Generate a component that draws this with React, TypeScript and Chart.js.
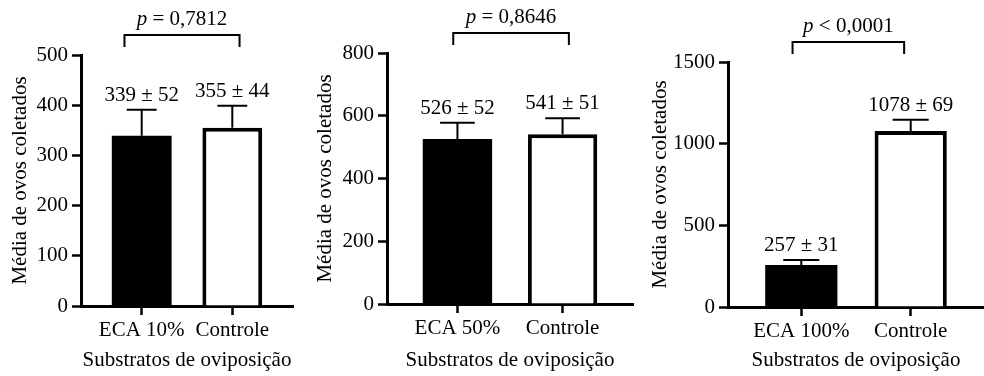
import React, { useEffect, useRef } from 'react';
import { Chart, registerables } from 'chart.js';

Chart.register(...registerables);

const FONT = '"Liberation Serif", "Times New Roman", serif';
const FONT_SIZE = 21;
const H = 376;

// ---- Data ----
const categories1 = ['ECA 10%', 'Controle'];
const means1 = [339, 355];
const sds1 = [52, 44];
const yTicks1 = [0, 100, 200, 300, 400, 500];
const pText1 = 'p = 0,7812';

const categories2 = ['ECA 50%', 'Controle'];
const means2 = [526, 541];
const sds2 = [52, 51];
const yTicks2 = [0, 200, 400, 600, 800];
const pText2 = 'p = 0,8646';

const categories3 = ['ECA 100%', 'Controle'];
const means3 = [257, 1078];
const sds3 = [31, 69];
const yTicks3 = [0, 500, 1000, 1500];
const pText3 = 'p < 0,0001';

const yTitle = 'Média de ovos coletados';
const xTitle = 'Substratos de oviposição';
const barFills = ['#000000', '#ffffff'];
const barBorders = [0, 4];

type Layout = {
  left: number;
  width: number;
  area: { left: number; right: number; top: number; bottom: number };
  bracket: [number, number];
};

const layouts: Layout[] = [
  { left: 0, width: 305, area: { left: 81, right: 293, top: 55, bottom: 306 }, bracket: [-0.19, 1.08] },
  { left: 305, width: 335, area: { left: 82, right: 328, top: 53, bottom: 304 }, bracket: [-0.04, 1.06] },
  { left: 640, width: 344, area: { left: 88, right: 344, top: 62, bottom: 307 }, bracket: [-0.08, 0.94] },
];

type PanelProps = {
  categories: string[];
  means: number[];
  sds: number[];
  yTicks: number[];
  pText: string;
  layout: Layout;
};

function Panel({ categories, means, sds, yTicks, pText, layout }: PanelProps) {
  const ref = useRef<HTMLCanvasElement | null>(null);

  useEffect(() => {
    const canvas = ref.current;
    if (!canvas) return;
    const { area, width } = layout;
    const font = { family: FONT, size: FONT_SIZE };

    const annotations = {
      id: 'annotations',
      afterDatasetsDraw(chart: any) {
        const ctx = chart.ctx as CanvasRenderingContext2D;
        const xs = chart.scales.x;
        const ys = chart.scales.y;
        const meta = chart.getDatasetMeta(0);
        ctx.save();
        ctx.strokeStyle = '#000';
        ctx.fillStyle = '#000';
        ctx.lineWidth = 2;
        meta.data.forEach((bar: any, i: number) => {
          const top = ys.getPixelForValue(means[i] + sds[i]);
          const half = bar.width * 0.25;
          ctx.beginPath();
          ctx.moveTo(bar.x, bar.y);
          ctx.lineTo(bar.x, top);
          ctx.moveTo(bar.x - half, top);
          ctx.lineTo(bar.x + half, top);
          ctx.stroke();
          ctx.font = `${FONT_SIZE}px ${FONT}`;
          ctx.textAlign = 'center';
          ctx.textBaseline = 'alphabetic';
          ctx.fillText(`${means[i]} \u00B1 ${sds[i]}`, bar.x, top - 9);
        });
        // bracket
        const bx1 = xs.getPixelForValue(layout.bracket[0]);
        const bx2 = xs.getPixelForValue(layout.bracket[1]);
        const by = chart.chartArea.top - 20;
        ctx.beginPath();
        ctx.moveTo(bx1, by + 12);
        ctx.lineTo(bx1, by);
        ctx.lineTo(bx2, by);
        ctx.lineTo(bx2, by + 12);
        ctx.stroke();
        // p text
        const first = pText.slice(0, 1);
        const rest = pText.slice(1);
        ctx.font = `italic ${FONT_SIZE}px ${FONT}`;
        const w1 = ctx.measureText(first).width;
        ctx.font = `${FONT_SIZE}px ${FONT}`;
        const w2 = ctx.measureText(rest).width;
        const mid = (bx1 + bx2) / 2;
        const sx = mid - (w1 + w2) / 2;
        ctx.textAlign = 'left';
        ctx.textBaseline = 'alphabetic';
        ctx.font = `italic ${FONT_SIZE}px ${FONT}`;
        ctx.fillText(first, sx, by - 10);
        ctx.font = `${FONT_SIZE}px ${FONT}`;
        ctx.fillText(rest, sx + w1, by - 10);
        ctx.restore();
      },
    };

    const gridOpts = {
      display: true,
      offset: false,
      drawOnChartArea: false,
      drawTicks: true,
      tickLength: 9,
      tickWidth: 2.5,
      tickColor: '#000',
      color: '#000',
    };

    const chart = new Chart(canvas, {
      type: 'bar',
      data: {
        datasets: [
          {
            data: means.map((m, i) => ({ x: i, y: m })),
            backgroundColor: barFills,
            borderColor: '#000',
            borderWidth: barBorders,
            borderSkipped: 'start',
            barPercentage: 0.66,
            categoryPercentage: 1,
          } as any,
        ],
      },
      options: {
        responsive: false,
        animation: false,
        events: [],
        layout: { padding: { top: area.top, right: width - area.right, bottom: 0, left: 0 } },
        plugins: { legend: { display: false }, tooltip: { enabled: false }, title: { display: false } },
        scales: {
          x: {
            type: 'linear',
            offset: false,
            min: -0.67,
            max: 1.67,
            afterBuildTicks: (s: any) => {
              s.ticks = categories.map((_, i) => ({ value: i }));
            },
            afterFit: (s: any) => {
              s.height = H - area.bottom;
            },
            ticks: {
              callback: (_v: any, i: number) => categories[i],
              font,
              color: '#000',
              padding: 3,
              maxRotation: 0,
              autoSkip: false,
            },
            grid: gridOpts,
            border: { display: true, color: '#000', width: 3 },
            title: { display: true, text: xTitle, font, color: '#000', padding: { top: 0, bottom: 3 } },
          },
          y: {
            type: 'linear',
            min: yTicks[0],
            max: yTicks[yTicks.length - 1],
            afterBuildTicks: (s: any) => {
              s.ticks = yTicks.map((v) => ({ value: v }));
            },
            afterFit: (s: any) => {
              s.width = area.left;
            },
            ticks: { font, color: '#000', padding: 4, autoSkip: false, callback: (v: any) => String(v) },
            grid: gridOpts,
            border: { display: true, color: '#000', width: 3 },
            title: { display: true, text: yTitle, font, color: '#000', padding: { top: 8, bottom: 0 } },
          },
        },
      } as any,
      plugins: [annotations],
    });
    return () => chart.destroy();
  }, [categories, means, sds, yTicks, pText, layout]);

  return (
    <canvas
      ref={ref}
      width={layout.width}
      height={H}
      style={{ position: 'absolute', left: layout.left, top: 0, width: layout.width, height: H }}
    />
  );
}

export default function App() {
  return (
    <div
      style={{
        position: 'fixed',
        left: 0,
        top: 0,
        width: 984,
        height: H,
        overflow: 'hidden',
        background: '#fff',
      }}
    >
      <Panel categories={categories1} means={means1} sds={sds1} yTicks={yTicks1} pText={pText1} layout={layouts[0]} />
      <Panel categories={categories2} means={means2} sds={sds2} yTicks={yTicks2} pText={pText2} layout={layouts[1]} />
      <Panel categories={categories3} means={means3} sds={sds3} yTicks={yTicks3} pText={pText3} layout={layouts[2]} />
    </div>
  );
}
